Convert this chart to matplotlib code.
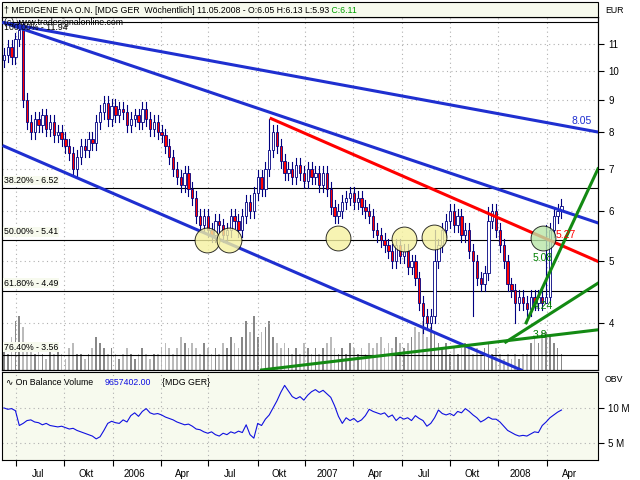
import matplotlib
matplotlib.use("Agg")
import matplotlib.pyplot as plt
import numpy as np
from matplotlib.ticker import FixedLocator, NullLocator
from matplotlib.patches import Rectangle
from matplotlib.text import Annotation

closes = [10.6,10.9,10.5,11.2,11.6,
          9.0,8.3,8.0,8.4,8.2,8.5,
          8.1,8.3,7.9,8.0,7.8,7.6,7.4,7.0,7.3,7.6,
          7.5,7.8,7.7,8.3,8.6,8.9,8.4,8.8,8.5,8.7,
          8.6,8.2,8.4,8.5,8.3,8.7,8.4,8.1,8.3,8.0,
          7.9,7.6,7.3,7.0,6.8,6.6,6.9,6.5,6.3,5.9,
          5.7,5.9,5.6,5.5,5.8,5.7,5.5,5.6,5.9,5.8,
          5.6,5.9,6.2,6.0,6.4,6.8,6.5,7.0,7.5,8.0,
          7.6,7.2,6.9,7.0,6.8,7.1,6.9,6.7,7.0,6.8,
          6.9,6.6,6.9,6.5,6.1,5.9,6.0,6.2,6.3,6.4,
          6.2,6.3,6.1,6.0,5.9,5.6,5.5,5.4,5.3,5.2,
          5.0,5.3,5.1,5.2,4.9,5.0,4.7,4.3,4.1,4.0,
          4.1,5.0,5.3,5.6,5.8,6.0,5.7,5.9,5.5,5.6,
          5.2,5.0,4.7,4.6,4.8,5.8,6.0,5.6,5.3,5.0,
          4.6,4.5,4.3,4.4,4.3,4.2,4.4,4.3,4.4,4.3,
          4.4,5.6,5.9,6.0,6.11]
first_open = 10.4
spike_high = {4: 12.0, 69: 8.4, 112: 5.6, 126: 6.1, 141: 5.7}
spike_low = {109: 3.85, 122: 4.1, 133: 4.0, 141: 4.3}
volumes = [0.5,0.3,0.6,0.9,1.0,0.8,0.5,0.4,0.3,0.4,0.3,0.2,0.4,0.3,0.5,0.3,0.2,0.4,0.5,0.3,
           0.3,0.2,0.3,0.4,0.6,0.5,0.4,0.3,0.4,0.3,0.2,0.3,0.4,0.3,0.2,0.3,0.4,0.3,0.2,0.3,
           0.3,0.4,0.5,0.4,0.3,0.4,0.6,0.5,0.4,0.5,0.4,0.3,0.5,0.4,0.3,0.4,0.3,0.5,0.4,0.6,
           0.5,0.4,0.6,0.9,0.7,1.0,0.6,0.7,0.8,0.9,0.6,0.5,0.4,0.5,0.4,0.3,0.4,0.3,0.5,0.4,
           0.3,0.4,0.3,0.4,0.5,0.6,0.4,0.3,0.4,0.3,0.5,0.4,0.3,0.4,0.3,0.5,0.4,0.5,0.6,0.4,
           0.5,0.4,0.6,0.5,0.4,0.5,0.6,0.8,0.7,0.9,0.6,0.8,0.7,0.5,0.4,0.5,0.3,0.4,0.3,0.4,
           0.5,0.4,0.3,0.4,0.3,0.4,0.5,0.3,0.4,0.3,0.2,0.3,0.2,0.3,0.2,0.3,0.3,0.5,0.6,0.5,
           0.7,0.7,0.6,0.5,0.4,0.3]
obv = [10.0,9.8,9.9,9.6,7.5,7.8,8.2,8.3,8.0,7.9,
       7.6,7.8,7.5,7.4,7.3,7.4,7.2,7.0,7.1,6.8,
       6.6,6.4,6.2,6.0,5.6,5.9,6.8,7.8,8.1,7.9,
       7.8,8.3,8.0,8.9,9.3,8.8,9.5,9.9,9.3,9.1,
       9.2,9.0,8.7,8.5,8.3,8.0,7.8,7.6,7.7,7.4,
       7.0,6.9,6.6,6.4,6.6,6.2,6.0,6.4,6.2,6.6,
       6.4,6.7,6.5,7.6,6.2,5.7,7.8,7.5,8.4,9.0,
       10.0,11.0,12.2,13.2,12.4,11.6,11.3,11.6,11.1,11.8,
       12.3,12.6,12.2,12.5,12.0,11.5,10.3,8.8,7.8,8.6,
       8.2,8.5,8.0,8.3,8.9,9.8,9.5,9.3,9.1,9.3,
       8.7,9.0,8.2,8.7,8.4,8.6,8.2,8.9,8.5,8.2,
       7.4,7.8,8.6,9.7,9.2,9.0,9.2,8.9,9.5,9.3,
       9.9,9.5,9.0,8.6,8.0,8.3,8.7,8.4,8.4,8.0,
       7.4,6.8,6.5,6.2,6.0,6.1,6.0,6.3,6.6,6.5,
       7.5,8.0,8.6,9.0,9.4,9.7]
month_ticks = [3.1,15.7,28.3,40.8,53.2,66.0,78.4,90.9,103.6,116.0,128.6,141.3]
month_labels = ["Jul","Okt","2006","Apr","Jul","Okt","2007","Apr","Jul","Okt","2008","Apr"]
fib_levels = [11.94, 6.52, 5.41, 4.49, 3.56]
fib_labels = ["100.00% - 11.94", "38.20% - 6.52", "50.00% - 5.41", "61.80% - 4.49", "76.40% - 3.56"]
blue_lines = [((0, 11.9), (154.5, 8.0)), ((0, 11.9), (154.5, 5.75)), ((0, 7.6), (134.5, 3.37))]
red_line = ((69.5, 8.4), (154.5, 5.0))
green_lines = [((67, 3.37), (154.5, 3.9)), ((130.5, 3.73), (154.5, 4.62)), ((135.8, 4.0), (154.5, 7.0))]
line_labels = [(147.5, 8.25, "8.05", "#1f2fd0"), (143.5, 5.45, "5.27", "red"),
               (137.5, 5.0, "5.08", "green"), (137.5, 4.2, "4.24", "green"), (137.5, 3.78, "3.8", "green")]
circles_x = [52.8, 58.5, 87.0, 104.0, 111.8]
circles_y = [5.4, 5.4, 5.45, 5.43, 5.47]
circle_green = (140.3, 5.45)

bg = "#F7FAEE"
plt.rcParams['font.family'] = ['Liberation Sans', 'DejaVu Sans']
fig = plt.figure(figsize=(6.4, 4.8), dpi=100)
fig.patch.set_facecolor("white")
fs = 6.3

L, R = 2/640, 598/640
fig.patches.append(Rectangle((L, 1-17/480), R-L, 15/480, transform=fig.transFigure,
                             facecolor=bg, edgecolor="black", lw=0.8))
t1 = fig.text(0.006, 0.9785, "\u2020 MEDIGENE NA O.N. [MDG GER  Wöchentlich] 11.05.2008 - O:6.05 H:6.13 L:5.93",
              fontsize=fs, va="center")
fig.add_artist(Annotation(" C:6.11", xy=(1, 0.5), xycoords=t1, va="center", ha="left",
                          fontsize=fs, color="#00a000", annotation_clip=False))
fig.text(0.945, 0.9785, "EUR", fontsize=fs, va="center")

ax = fig.add_axes([L, 1-370/480, R-L, (370-17)/480])
ax.set_yscale("log")
ax.set_ylim(3.37, 12.15)
ax.set_xlim(-0.5, 154.5)
x = np.arange(len(closes))
opens = [first_open] + closes[:-1]

axv = ax.twinx()
axv.set_ylim(0, 6.5)
axv.set_yticks([])
vcol = ["#888888" if closes[i] >= opens[i] else "#bbbbbb" for i in range(len(closes))]
axv.bar(x, volumes, width=0.45, color=vcol, zorder=1)
axv.set_zorder(0)
ax.set_zorder(1)
ax.patch.set_visible(False)
axv.patch.set_facecolor(bg)

for lvl in fib_levels:
    ax.axhline(lvl, color="black", lw=0.8, zorder=2)
for k, (lvl, lab) in enumerate(zip(fib_levels, fib_labels)):
    if k == 0:
        ax.text(0.0, lvl*0.995, lab, fontsize=fs, va="top", ha="left", zorder=6)
    else:
        ax.text(0.0, lvl*1.012, lab, fontsize=fs, va="bottom", ha="left", zorder=6,
                bbox=dict(facecolor=bg, edgecolor="none", pad=0.3))

for i in range(len(closes)):
    o, c = opens[i], closes[i]
    hi = spike_high.get(i, max(o, c)*1.025)
    lo = spike_low.get(i, min(o, c)*0.975)
    ax.plot([i, i], [lo, hi], color="#000080", lw=0.8, zorder=3)
    col = "white" if c >= o else "red"
    ax.bar(i, abs(c-o) if abs(c-o) > 0.02 else 0.02, bottom=min(o, c), width=0.6,
           color=col, edgecolor="#000080", lw=0.6, zorder=4)

for (a, b) in blue_lines:
    ax.plot([a[0], b[0]], [a[1], b[1]], color="#1f2fd0", lw=2.2, zorder=5)
ax.plot([red_line[0][0], red_line[1][0]], [red_line[0][1], red_line[1][1]], color="red", lw=2.2, zorder=5)
for (a, b) in green_lines:
    ax.plot([a[0], b[0]], [a[1], b[1]], color="#138a13", lw=2.2, zorder=5)
for lx, ly, t, c in line_labels:
    ax.text(lx, ly, t, fontsize=7.5, color=c, zorder=6)
ax.scatter(circles_x, circles_y, s=320, facecolor="#f5f2a0", edgecolor="black", lw=0.7, alpha=0.8, zorder=5)
ax.scatter([circle_green[0]], [circle_green[1]], s=320, facecolor="#b9e6a8", edgecolor="black", lw=0.7, alpha=0.8, zorder=5)

ax.text(0.003, 0.998, "(c) www.tradesignalonline.com", transform=ax.transAxes, fontsize=fs, va="top", zorder=7)

ax.yaxis.tick_right()
ax.yaxis.set_major_locator(FixedLocator([4,5,6,7,8,9,10,11]))
ax.yaxis.set_minor_locator(NullLocator())
ax.set_yticklabels(["4","5","6","7","8","9","10","11"])
ax.tick_params(axis="y", labelsize=7, length=4, direction="out")
ax.set_xticks(month_ticks)
ax.set_xticklabels([])
ax.tick_params(axis="x", length=0)
ax.grid(True, color="#b0b0b0", ls=(0, (1, 3)), lw=0.8)

ax2 = fig.add_axes([L, 1-460/480, R-L, (460-372)/480])
ax2.set_facecolor(bg)
ax2.plot(np.arange(len(obv)), obv, color="#1010e0", lw=0.8)
ax2.set_xlim(-0.5, 154.5)
ax2.set_ylim(2.6, 15.1)
ax2.yaxis.tick_right()
ax2.set_yticks([5, 10])
ax2.set_yticklabels(["5 M", "10 M"])
ax2.tick_params(axis="y", labelsize=7, length=4)
ax2.set_xticks(month_ticks)
ax2.set_xticklabels([])
ax2.tick_params(axis="x", length=4, direction="out")
ax2.grid(True, color="#b0b0b0", ls=(0, (1, 3)), lw=0.8)
ax2.text(0.006, 0.93, "\u223f On Balance Volume ", transform=ax2.transAxes, fontsize=fs, va="top")
ax2.text(0.172, 0.93, "9657402.00", transform=ax2.transAxes, fontsize=fs, va="top", color="#1010e0")
ax2.text(0.268, 0.93, "{MDG GER}", transform=ax2.transAxes, fontsize=fs, va="top")
fig.text(0.945, 1-380/480, "OBV", fontsize=fs, va="center")
for t, lab in zip(month_ticks, month_labels):
    ax2.text(t + 5.7, -0.1, lab, transform=ax2.get_xaxis_transform(), fontsize=7, ha="center", va="top")

fig.savefig("out.png", dpi=100)
